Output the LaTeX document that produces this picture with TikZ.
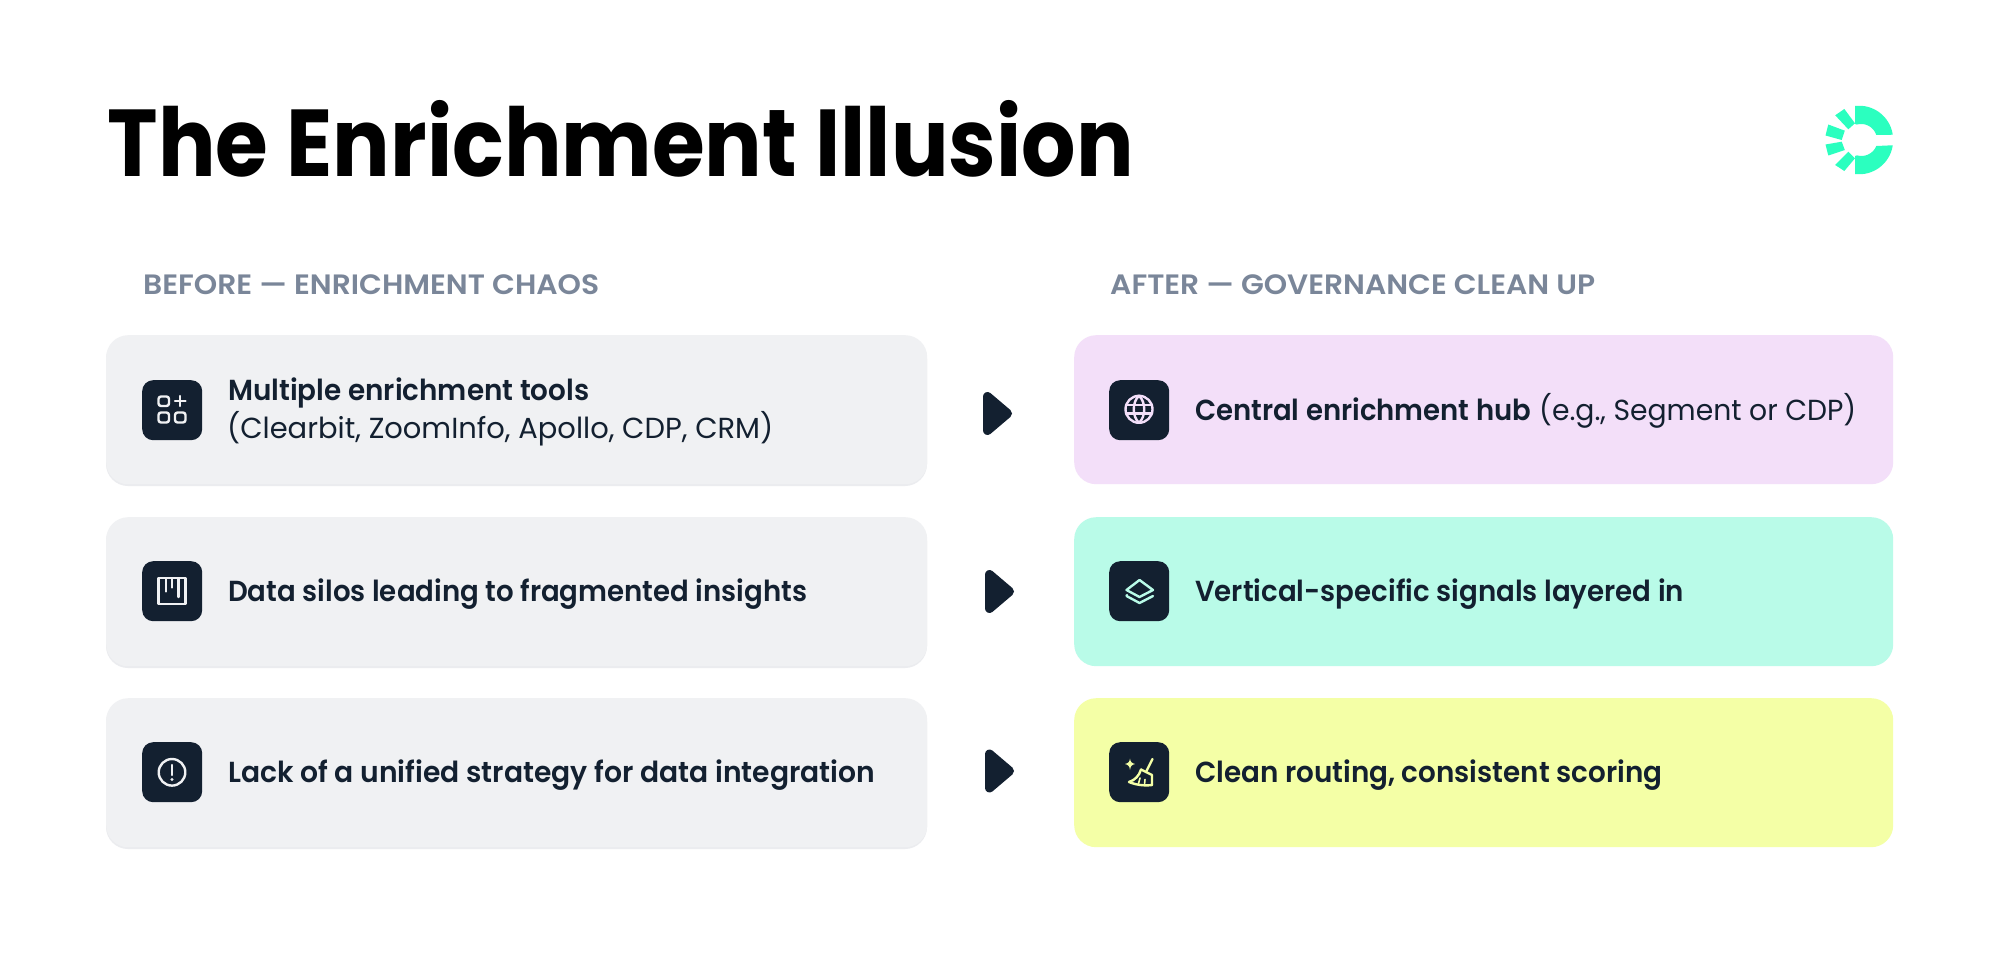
\documentclass[tikz,border=0pt]{standalone}
\usepackage{graphicx}
\usepackage{fontspec}
\setmainfont{Poppins}[BoldFont={Poppins SemiBold}]
\newfontfamily\titlefont{Poppins Bold}
\newfontfamily\headfont{Poppins SemiBold}
\newcommand{\fitw}[2]{\resizebox{#1}{\height}{#2}}
\definecolor{ink}{HTML}{132030}
\definecolor{head}{HTML}{7A8699}
\definecolor{cardgrey}{HTML}{F0F1F3}
\definecolor{cardshadow}{HTML}{EBECEF}
\definecolor{cardpink}{HTML}{F3DFF9}
\definecolor{cardmint}{HTML}{B9FBE8}
\definecolor{cardlime}{HTML}{F4FFA6}
\definecolor{logo}{HTML}{2BFFBF}
\tikzset{
  x=1pt,y=-1pt,
  card/.style={rounded corners=22pt,minimum width=#1,minimum height=149pt,inner sep=0pt,anchor=north west},
  tile/.style={fill=ink,rounded corners=11pt,minimum width=60pt,minimum height=60pt,inner sep=0pt,anchor=north west},
  label/.style={anchor=base west,inner sep=0pt,text=ink,font=\fontsize{29}{33}\selectfont},
  heading/.style={anchor=base west,inner sep=0pt,text=head,font=\fontsize{28}{32}\headfont},
  tip/.style={fill=ink,draw=ink,line width=9pt,line join=round},
  glyph/.style={line width=2.4pt,line cap=round,line join=round},
}
\begin{document}
\begin{tikzpicture}
\useasboundingbox (0,0) rectangle (2000,955);
\fill[white] (0,0) rectangle (2000,955);
\node[anchor=base west,inner sep=0pt,text=black,font=\fontsize{95}{110}\titlefont] (title) at (107.5,177) {\fitw{1026pt}{The Enrichment Illusion}};
% logo
\fill[logo] (1855,106) arc[start angle=-97,end angle=-8.5,radius=34] -- (1876.3,135) arc[start angle=-18,end angle=-106,radius=16] -- (1855,124) -- cycle;
\fill[logo] (1855,174) arc[start angle=97,end angle=8.5,radius=34] -- (1876.3,146) arc[start angle=22,end angle=106,radius=16] -- (1855,156) -- cycle;
\fill[logo] (1835.2,115.3) -- (1844.3,109) -- (1855,123.3) -- (1848.3,129.3) -- cycle;
\fill[logo] (1828.3,124.5) -- (1825.5,135.5) -- (1841.7,140) -- (1844.8,130.7) -- cycle;
\fill[logo] (1825.5,144.5) -- (1828.3,155.5) -- (1844.8,150) -- (1841.7,141.7) -- cycle;
\fill[logo] (1835.2,165) -- (1844.3,171) -- (1855,158.3) -- (1848.3,151.7) -- cycle;
% headings
\node[heading] (hb) at (143,294) {\fitw{456pt}{BEFORE — ENRICHMENT CHAOS}};
\node[heading] (ha) at (1110,294) {\fitw{485pt}{AFTER — GOVERNANCE CLEAN UP}};
% cards
\foreach \y/\n in {335/a,517/b,698/c}{
  \fill[cardshadow,rounded corners=22pt] (106,\y+2) rectangle ++(821,149);
  \node[card=821pt,fill=cardgrey] (l\n) at (106,\y) {};
}
\node[card=819pt,fill=cardpink] (ra) at (1074,335) {};
\node[card=819pt,fill=cardmint] (rb) at (1074,517) {};
\node[card=819pt,fill=cardlime] (rc) at (1074,698) {};
% tiles
\foreach \y/\n in {380/a,561/b,742/c}{
  \node[tile] (il\n) at (142,\y) {};
  \node[tile] (ir\n) at (1109,\y) {};
}
% arrows
\path[tip] (987.5,396.5) -- (1007.5,413.5) -- (987.5,430.5) -- cycle;
\path[tip] (989.5,574.5) -- (1009.5,591.5) -- (989.5,608.5) -- cycle;
\path[tip] (989.5,754) -- (1009.5,771) -- (989.5,788) -- cycle;
% left glyphs
\begin{scope}[glyph,draw=cardgrey]
\draw[rounded corners=2.5pt] (158.5,396.5) rectangle (169,406);
\draw[rounded corners=2.5pt] (158.5,412.5) rectangle (169,422.5);
\draw[rounded corners=2.5pt] (175,412.5) rectangle (185.5,422.5);
\draw (175,401) -- (185.5,401) (180.2,396) -- (180.2,406);
\draw (158.5,578) rectangle (185.5,604);
\draw (166,579) -- (166,591.5) (172,579) -- (172,587.5) (178.5,579) -- (178.5,597);
\draw (172,772.3) circle[radius=13.3];
\draw (172,765) -- (172,775);
\fill[cardgrey] (172,779.5) circle[radius=1.7];
\end{scope}
% right glyphs
\begin{scope}[glyph,draw=cardpink]
\draw (1139,409.3) circle[radius=13.5];
\draw (1139,395.8) .. controls (1132,402) and (1132,416.5) .. (1139,422.8);
\draw (1139,395.8) .. controls (1146,402) and (1146,416.5) .. (1139,422.8);
\draw (1126,405) -- (1152,405) (1126,413.5) -- (1152,413.5);
\end{scope}
\begin{scope}[glyph,draw=cardmint]
\draw (1139.5,580) -- (1153,590) -- (1139.5,597) -- (1126.5,590) -- cycle;
\draw (1127,595) -- (1126.5,596) -- (1139.5,603) -- (1153,596);
\end{scope}
\begin{scope}[glyph,draw=cardlime]
\fill[cardlime] (1130,758.5) .. controls (1130.5,762) and (1131.5,763) .. (1135,764) .. controls (1131.5,765) and (1130.5,766) .. (1130,770) .. controls (1129.5,766) and (1128.5,765) .. (1125,764) .. controls (1128.5,763) and (1129.5,762) .. (1130,758.5) -- cycle;
\draw (1152.5,759) -- (1146,772);
\draw (1141,769.5) -- (1152,775) -- (1152,785);
\draw (1141,769.5) .. controls (1139,776) and (1135,780) .. (1129,782) .. controls (1136,785) and (1145,786) .. (1152,785);
\draw[line width=1.6pt] (1140,778) -- (1138.5,783.5) (1145,779.5) -- (1144.5,784.5);
\end{scope}
% texts
\node[label] (t1a) at (228,400) {\fitw{361pt}{\bfseries Multiple enrichment tools}};
\node[label] (t1b) at (227,438) {\fitw{546pt}{(Clearbit, ZoomInfo, Apollo, CDP, CRM)}};
\node[label] (t2) at (228,601) {\fitw{579pt}{\bfseries Data silos leading to fragmented insights}};
\node[label] (t3) at (228,782) {\fitw{647pt}{\bfseries Lack of a unified strategy for data integration}};
\node[label] (r1) at (1195,420) {\fitw{336pt}{\bfseries Central enrichment hub}\hspace{8pt}\fitw{317pt}{(e.g., Segment or CDP)}};
\node[label] (r2) at (1195,601) {\fitw{489pt}{\bfseries Vertical-specific signals layered in}};
\node[label] (r3) at (1195,782) {\fitw{467pt}{\bfseries Clean routing, consistent scoring}};
\end{tikzpicture}
\end{document}
